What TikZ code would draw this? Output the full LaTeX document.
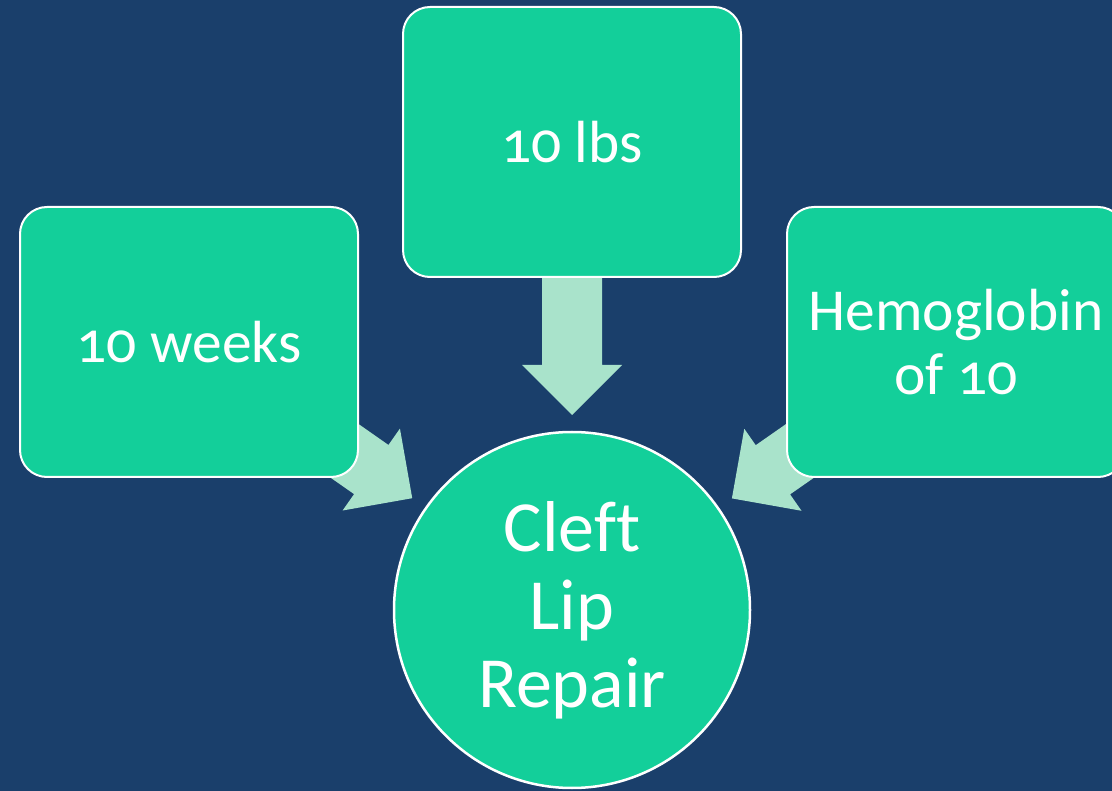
\documentclass[tikz,border=0pt]{standalone}
\usepackage{fontspec}
\setmainfont{Carlito}[Numbers=OldStyle,Ligatures=NoCommon]
\usepackage{tikz}
\usetikzlibrary{calc,backgrounds}

\definecolor{slidebg}{HTML}{1A3F6B}
\definecolor{boxgreen}{HTML}{13CF9A}
\definecolor{arrowgreen}{HTML}{A9E3CB}

\pgfdeclarelayer{arrows}
\pgfsetlayers{background,arrows,main}

% block arrow from a box towards the circle
\newcommand{\blockarrow}[2]{%
  \coordinate (tip) at ($(#2.center)!195pt!(#1.center)$);
  \coordinate (hb) at ($(tip)!50pt!(#1.center)$);
  \fill[arrowgreen] (tip) -- ($(hb)!50pt!90:(tip)$) -- ($(hb)!30pt!90:(tip)$)
    -- ($(#1.center)!30pt!90:(tip)$) -- ($(#1.center)!30pt!-90:(tip)$)
    -- ($(hb)!30pt!-90:(tip)$) -- ($(hb)!50pt!-90:(tip)$) -- cycle;
}

\tikzset{
  stepbox/.style={draw=white,line width=2pt,fill=boxgreen,rounded corners=27pt,
    minimum width=338pt,minimum height=270pt,text=white,align=center,
    font=\fontsize{59.5}{64}\selectfont},
  goal/.style={circle,draw=white,line width=2.5pt,fill=boxgreen,minimum size=356pt,
    text=white,align=center,font=\fontsize{72}{78}\selectfont}
}

\begin{document}
\begin{tikzpicture}[x=1pt,y=-1pt]
  \useasboundingbox (0,0) rectangle (1112,791);
  \begin{pgfonlayer}{background}
    \fill[slidebg] (0,0) rectangle (1112,791);
  \end{pgfonlayer}

  \node[stepbox] (lbs) at (572,142) {10 lbs};
  \node[stepbox] (weeks) at (189,342) {10 weeks};
  \node[stepbox] (hgb) at (956,342) {Hemoglobin\\of 10};
  \node[goal] (repair) at (572,610) {Cleft\\Lip\\Repair};

  \begin{pgfonlayer}{arrows}
    \foreach \src in {weeks,lbs,hgb}{
      \blockarrow{\src}{repair}
    }
  \end{pgfonlayer}
\end{tikzpicture}
\end{document}
